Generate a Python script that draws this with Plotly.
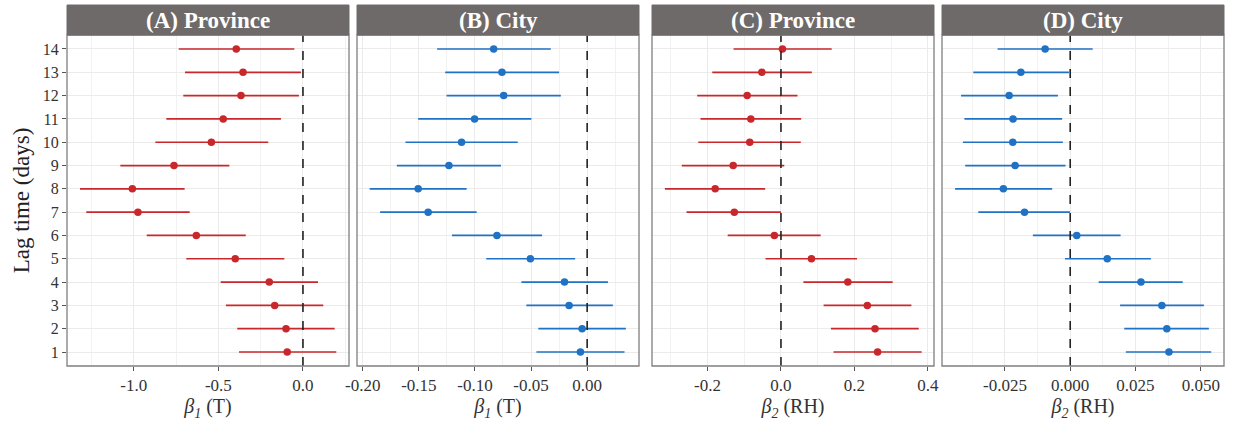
import plotly.graph_objects as go

lags = list(range(1, 15))

# Panel A: Province, beta1 (T)
a_est = [-0.093, -0.100, -0.167, -0.199, -0.400, -0.630, -0.975, -1.008, -0.762, -0.541, -0.471, -0.366, -0.354, -0.394]
a_lo  = [-0.378, -0.388, -0.455, -0.486, -0.689, -0.923, -1.280, -1.317, -1.079, -0.872, -0.807, -0.707, -0.697, -0.734]
a_hi  = [0.197, 0.187, 0.120, 0.089, -0.110, -0.338, -0.669, -0.699, -0.435, -0.205, -0.130, -0.024, -0.012, -0.051]

# Panel B: City, beta1 (T)
b_est = [-0.0060, -0.0045, -0.0161, -0.0202, -0.0506, -0.0804, -0.1417, -0.1506, -0.1232, -0.1119, -0.1003, -0.0744, -0.0759, -0.0833]
b_lo  = [-0.0452, -0.0435, -0.0542, -0.0586, -0.0899, -0.1205, -0.1845, -0.1938, -0.1696, -0.1619, -0.1506, -0.1253, -0.1265, -0.1337]
b_hi  = [0.0333, 0.0345, 0.0229, 0.0185, -0.0107, -0.0402, -0.0985, -0.1074, -0.0768, -0.0619, -0.0497, -0.0235, -0.0250, -0.0324]

# Panel C: Province, beta2 (RH)
c_est = [0.263, 0.256, 0.235, 0.182, 0.083, -0.018, -0.127, -0.179, -0.130, -0.085, -0.082, -0.092, -0.052, 0.004]
c_lo  = [0.143, 0.136, 0.116, 0.061, -0.042, -0.145, -0.257, -0.316, -0.270, -0.225, -0.219, -0.228, -0.187, -0.129]
c_hi  = [0.383, 0.375, 0.355, 0.304, 0.207, 0.108, 0.000, -0.043, 0.009, 0.054, 0.055, 0.045, 0.084, 0.138]

# Panel D: City, beta2 (RH)
d_est = [0.0378, 0.0370, 0.0351, 0.0271, 0.0142, 0.0025, -0.0175, -0.0256, -0.0211, -0.0220, -0.0219, -0.0234, -0.0189, -0.0096]
d_lo  = [0.0213, 0.0207, 0.0191, 0.0109, -0.0020, -0.0143, -0.0352, -0.0441, -0.0402, -0.0411, -0.0405, -0.0418, -0.0371, -0.0278]
d_hi  = [0.0540, 0.0531, 0.0512, 0.0431, 0.0309, 0.0193, -0.0001, -0.0069, -0.0018, -0.0028, -0.0031, -0.0047, -0.0005, 0.0086]

titles = ["(A) Province", "(B) City", "(C) Province", "(D) City"]
xtitles = ["<i>β<sub>1</sub></i> (T)", "<i>β<sub>1</sub></i> (T)", "<i>β<sub>2</sub></i> (RH)", "<i>β<sub>2</sub></i> (RH)"]

a_ticks = [-1.0, -0.5, 0.0]
a_ticktext = ["-1.0", "-0.5", "0.0"]
b_ticks = [-0.20, -0.15, -0.10, -0.05, 0.00]
b_ticktext = ["-0.20", "-0.15", "-0.10", "-0.05", "0.00"]
c_ticks = [-0.2, 0.0, 0.2, 0.4]
c_ticktext = ["-0.2", "0.0", "0.2", "0.4"]
d_ticks = [-0.025, 0.000, 0.025, 0.050]
d_ticktext = ["-0.025", "0.000", "0.025", "0.050"]

RED = "#c8282b"
BLUE = "#1f72c4"

panels = [
    (a_est, a_lo, a_hi, RED, a_ticks, a_ticktext, 0.25, [-1.394, 0.272]),
    (b_est, b_lo, b_hi, BLUE, b_ticks, b_ticktext, 0.025, [-0.2051, 0.0462]),
    (c_est, c_lo, c_hi, RED, c_ticks, c_ticktext, 0.1, [-0.351, 0.4165]),
    (d_est, d_lo, d_hi, BLUE, d_ticks, d_ticktext, 0.0125, [-0.0491, 0.0589]),
]

W, H = 1241, 425
px_domains = [(67, 349), (357, 639), (652, 934), (942, 1224)]
ytop, ybot, strip_top = 35, 366, 5
ydom = [1 - ybot / H, 1 - ytop / H]

FONT = "Liberation Serif"
fig = go.Figure()
layout = dict(
    width=W, height=H, margin=dict(l=0, r=0, t=0, b=0, autoexpand=False),
    paper_bgcolor="white", plot_bgcolor="white", showlegend=False,
    font=dict(family=FONT, color="#333333"),
)
shapes = []
annotations = []

for i, (est, lo, hi, col, tv, tt, minor_dt, xr) in enumerate(panels):
    n = i + 1
    xa = "x" if n == 1 else f"x{n}"
    ya = "y" if n == 1 else f"y{n}"
    plus = [h - e for h, e in zip(hi, est)]
    minus = [e - l for e, l in zip(est, lo)]
    fig.add_trace(go.Scatter(
        x=est, y=lags, mode="markers", xaxis=xa, yaxis=ya,
        marker=dict(color=col, size=7.5),
        error_x=dict(type="data", array=plus, arrayminus=minus, symmetric=False,
                     color=col, thickness=1.7, width=0),
    ))
    d0, d1 = px_domains[i]
    xkey = "xaxis" if n == 1 else f"xaxis{n}"
    ykey = "yaxis" if n == 1 else f"yaxis{n}"
    layout[xkey] = dict(
        domain=[d0 / W, d1 / W], range=xr, anchor=ya, automargin=False,
        tickmode="array", tickvals=tv, ticktext=tt,
        showgrid=True, gridcolor="#ebebeb", gridwidth=1,
        minor=dict(dtick=minor_dt, tick0=0, showgrid=True, gridcolor="#f2f2f2", gridwidth=0.8),
        zeroline=False, showline=False,
        ticks="outside", ticklen=4, tickcolor="#555555",
        tickfont=dict(family=FONT, size=17, color="#333333"),
        title=dict(text=xtitles[i], font=dict(family=FONT, size=20, color="#333333"), standoff=4),
    )
    ydict = dict(
        domain=ydom, range=[0.4, 14.6], anchor=xa, automargin=False,
        tickmode="array", tickvals=lags, ticktext=[str(v) for v in lags],
        showgrid=True, gridcolor="#ebebeb", gridwidth=1,
        zeroline=False, showline=False,
        showticklabels=(n == 1),
        ticks="outside" if n == 1 else "", ticklen=4, tickcolor="#555555",
        tickfont=dict(family=FONT, size=16, color="#333333"),
    )
    if n == 1:
        ydict["title"] = dict(text="Lag time (days)", font=dict(family=FONT, size=23, color="#222222"), standoff=6)
    layout[ykey] = ydict
    # zero dashed line
    shapes.append(dict(type="line", xref=xa, yref=f"{ya} domain", x0=0, x1=0, y0=0, y1=1,
                       line=dict(color="#222222", width=1.6, dash="dash")))
    # panel border
    shapes.append(dict(type="rect", xref="paper", yref="paper",
                       x0=d0 / W, x1=d1 / W, y0=ydom[0], y1=ydom[1],
                       line=dict(color="#7f7f7f", width=1.3), fillcolor="rgba(0,0,0,0)"))
    # strip
    shapes.append(dict(type="rect", xref="paper", yref="paper",
                       x0=d0 / W, x1=d1 / W, y0=1 - ytop / H, y1=1 - strip_top / H,
                       line=dict(color="#6f6a6a", width=1), fillcolor="#6f6a6a", layer="above"))
    annotations.append(dict(text=f"<b>{titles[i]}</b>", xref="paper", yref="paper",
                            x=(d0 + d1) / 2 / W, y=1 - (strip_top + ytop) / 2 / H,
                            xanchor="center", yanchor="middle", showarrow=False,
                            font=dict(family=FONT, size=23, color="white")))

layout["shapes"] = shapes
layout["annotations"] = annotations
fig.update_layout(**layout)
fig.write_html("out.html")
